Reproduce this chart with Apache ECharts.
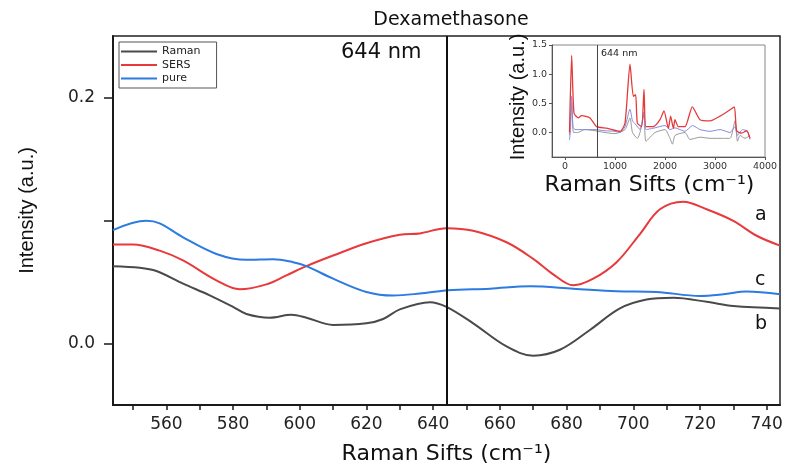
<!DOCTYPE html>
<html>
<head>
<meta charset="utf-8">
<script src="https://cdn.jsdelivr.net/npm/echarts@6/dist/echarts.min.js"></script>
<style>
html,body{margin:0;padding:0;background:#fff;}
#chart{width:787px;height:470px;}
</style>
</head>
<body>
<div id="chart"></div>
<script>
// ---------- data ----------
const titleText = 'Dexamethasone';
const seriesNames = ['Raman', 'SERS', 'pure'];
const markerNm = 644;

// main plot (zoom 544-744 cm-1)
const ramanX = [544,552,557,565,573,580,584,591,597.5,602,610,620,625,630,639,644,652,662,670,678,687,696,704,712,722,730,744];
const ramanY = [0.0629,0.0616,0.0589,0.0487,0.0392,0.0298,0.024,0.021,0.0234,0.021,0.0151,0.0164,0.0199,0.0277,0.0336,0.0298,0.0164,-0.0024,-0.0099,-0.0051,0.011,0.0285,0.0357,0.0371,0.0339,0.0304,0.0285];

const sersX = [544,550,558,565,575,582,590,596,602,610,620,630,636,644,652,662,670,676,682,688,695,702,708,715,722,730,737,744];
const sersY = [0.0804,0.0804,0.0755,0.0675,0.0513,0.0441,0.0481,0.0554,0.0629,0.0715,0.0815,0.0884,0.0895,0.0938,0.0917,0.0823,0.0688,0.0562,0.0473,0.0527,0.0661,0.089,0.1091,0.1153,0.1091,0.0997,0.0876,0.0796];

const pureX = [544,554,558,565,575,584,592,598,602,610,620,628,636,644.5,657,669,682,695,707,720,727,734,744];
const pureY = [0.0922,0.0997,0.0976,0.0863,0.0728,0.068,0.0685,0.0661,0.0629,0.0527,0.0419,0.039,0.0406,0.0433,0.0446,0.0465,0.0446,0.0425,0.0419,0.0387,0.04,0.0422,0.04];

const xTickValues = [550,560,570,580,590,600,610,620,630,640,650,660,670,680,690,700,710,720,730,740];
const xLabelValues = [560,580,600,620,640,660,680,700,720,740];
const yTickValues = [0, 0.1, 0.2];
const yLabelValues = [0, 0.2];

// inset (full spectrum)
const insetSersX = [90,133,180,267,333,500,633,833,1100,1200,1300,1367,1413,1447,1533,1580,1620,1767,1900,1980,2067,2113,2167,2200,2267,2400,2547,2700,2900,3100,3300,3387,3433,3533,3633,3700];
const insetSersY = [0.0,1.32,0.33,0.25,0.29,0.25,0.1,0.075,0.02,0.16,1.17,0.62,0.65,0.16,0.1,0.74,0.1,0.1,0.22,0.37,0.07,0.28,0.07,0.22,0.1,0.1,0.44,0.22,0.2,0.28,0.39,0.44,0.03,-0.01,0.03,-0.1];

const insetPureX = [90,110,133,160,200,400,600,800,1000,1100,1200,1300,1350,1400,1500,1580,1620,1800,2000,2100,2200,2400,2550,2700,2900,3100,3300,3400,3450,3550,3650,3700];
const insetPureY = [-0.13,0.05,0.62,0.1,0.05,0.05,0.05,0.03,0.02,0.0,0.1,0.4,0.2,0.15,0.05,0.35,0.05,0.08,0.12,0.05,0.08,0.02,0.12,0.05,0.02,0.05,0.0,0.1,-0.05,0.05,0.02,-0.12];

const insetRamanX = [90,133,170,250,400,600,800,1000,1200,1300,1350,1450,1500,1580,1620,1800,2000,2100,2150,2200,2400,2500,2700,2900,3100,3300,3400,3450,3500,3600,3700];
const insetRamanY = [-0.05,0.5,0.0,0.0,0.05,0.03,0.0,-0.02,0.05,0.25,0.0,-0.1,0.0,0.3,-0.15,0.0,0.05,-0.1,-0.2,-0.05,0.0,-0.12,-0.08,-0.1,-0.1,-0.1,0.2,-0.15,-0.05,-0.1,-0.05];

const insetXLabels = [0,1000,2000,3000,4000];
const insetYLabels = [0,0.5,1.0,1.5];

const curveLabels = ['a','c','b'];

// ---------- helpers ----------
const zip = (xs, ys) => xs.map((x, i) => [x, ys[i]]);
const FONT = "'DejaVu Sans', 'Liberation Sans', sans-serif";
const ARIAL = "'Liberation Sans', Arial, sans-serif";
const C_RAMAN = '#4a4a4a', C_SERS = '#e8393b', C_PURE = '#2b7be0';

const chart = echarts.init(document.getElementById('chart'), null, {renderer: 'canvas'});

const option = {
  animation: false,
  backgroundColor: '#ffffff',
  title: {
    text: titleText,
    left: 446, top: 6,
    textAlign: 'center',
    textStyle: {fontFamily: FONT, fontSize: 19, fontWeight: 'normal', color: '#111'}
  },
  legend: {
    data: seriesNames,
    orient: 'vertical',
    left: 119, top: 42,
    icon: 'rect',
    itemWidth: 36, itemHeight: 2, itemGap: 0.5,
    padding: [3, 16, 3, 2],
    borderColor: '#555', borderWidth: 1,
    textStyle: {fontFamily: FONT, fontSize: 11, color: '#222', lineHeight: 13}
  },
  grid: [
    {left: 113, top: 36, width: 667, height: 373, show: true, borderColor: '#222', borderWidth: 1.5, containLabel: false},
    {left: 552, top: 45, width: 213, height: 112, show: true, borderColor: '#888', borderWidth: 1, containLabel: false}
  ],
  xAxis: [
    {
      type: 'value', gridIndex: 0, min: 544, max: 744,
      axisLine: {show: true, onZero: false, lineStyle: {color: '#1a1a1a', width: 2}},
      axisTick: {show: true, customValues: xTickValues, length: 5, lineStyle: {color: '#1a1a1a', width: 1.5}},
      axisLabel: {show: true, customValues: xLabelValues, margin: 11, fontFamily: FONT, fontSize: 17, color: '#222'},
      splitLine: {show: false},
      name: 'Raman Sifts (cm⁻¹)', nameLocation: 'middle', nameGap: 38,
      nameTextStyle: {fontFamily: FONT, fontSize: 22, color: '#111'}
    },
    {
      type: 'value', gridIndex: 1, min: -260, max: 4000,
      axisLine: {show: true, onZero: false, lineStyle: {color: '#555', width: 1}},
      axisTick: {show: true, customValues: insetXLabels, length: 3, lineStyle: {color: '#555'}},
      axisLabel: {show: true, customValues: insetXLabels, margin: 5, fontFamily: FONT, fontSize: 9.5, color: '#333',
        formatter: v => String(v)},
      splitLine: {show: false},
      name: 'Raman Sifts (cm⁻¹)', nameLocation: 'middle', nameGap: 17,
      nameTextStyle: {fontFamily: FONT, fontSize: 22, color: '#111', padding: [0, 18, 0, 0]}
    }
  ],
  yAxis: [
    {
      type: 'value', gridIndex: 0, min: -0.05, max: 0.25,
      axisLine: {show: true, onZero: false, lineStyle: {color: '#1a1a1a', width: 2}},
      axisTick: {show: true, customValues: yTickValues, length: 9, lineStyle: {color: '#1a1a1a', width: 1.5}},
      axisLabel: {show: true, customValues: yLabelValues, margin: 18, fontFamily: FONT, fontSize: 17, color: '#222',
        formatter: v => Number(v).toFixed(1)},
      splitLine: {show: false},
      name: 'Intensity (a.u.)', nameLocation: 'middle', nameGap: 76,
      nameTextStyle: {fontFamily: ARIAL, fontSize: 20, color: '#111', padding: [0, 0, 0, 20]}
    },
    {
      type: 'value', gridIndex: 1, min: -0.42, max: 1.5,
      axisLine: {show: true, onZero: false, lineStyle: {color: '#555', width: 1}},
      axisTick: {show: true, customValues: insetYLabels, length: 3, lineStyle: {color: '#555'}},
      axisLabel: {show: true, customValues: insetYLabels, margin: 5, fontFamily: FONT, fontSize: 9.5, color: '#333',
        formatter: v => Number(v).toFixed(1)},
      splitLine: {show: false},
      name: 'Intensity (a.u.)', nameLocation: 'middle', nameGap: 22,
      nameTextStyle: {fontFamily: ARIAL, fontSize: 20, color: '#111', padding: [0, 0, 0, 8]}
    }
  ],
  series: [
    {
      name: 'Raman', type: 'line', xAxisIndex: 0, yAxisIndex: 0,
      data: zip(ramanX, ramanY), smooth: 0.35, symbol: 'none',
      lineStyle: {color: C_RAMAN, width: 2}, itemStyle: {color: C_RAMAN},
      markLine: {
        silent: true, symbol: ['none', 'none'], label: {show: false},
        lineStyle: {color: '#111', width: 2, type: 'solid'},
        data: [{xAxis: markerNm}]
      }
    },
    {
      name: 'SERS', type: 'line', xAxisIndex: 0, yAxisIndex: 0,
      data: zip(sersX, sersY), smooth: 0.35, symbol: 'none',
      lineStyle: {color: C_SERS, width: 2}, itemStyle: {color: C_SERS}
    },
    {
      name: 'pure', type: 'line', xAxisIndex: 0, yAxisIndex: 0,
      data: zip(pureX, pureY), smooth: 0.35, symbol: 'none',
      lineStyle: {color: C_PURE, width: 2}, itemStyle: {color: C_PURE}
    },
    {
      name: 'inset-Raman', type: 'line', xAxisIndex: 1, yAxisIndex: 1,
      data: zip(insetRamanX, insetRamanY), smooth: 0.2, symbol: 'none',
      lineStyle: {color: '#9a9a9a', width: 1}, itemStyle: {color: '#9a9a9a'},
      markLine: {
        silent: true, symbol: ['none', 'none'], label: {show: false},
        lineStyle: {color: '#444', width: 1, type: 'solid'},
        data: [{xAxis: markerNm}]
      }
    },
    {
      name: 'inset-pure', type: 'line', xAxisIndex: 1, yAxisIndex: 1,
      data: zip(insetPureX, insetPureY), smooth: 0.2, symbol: 'none',
      lineStyle: {color: '#8a8ae0', width: 1}, itemStyle: {color: '#8a8ae0'}
    },
    {
      name: 'inset-SERS', type: 'line', xAxisIndex: 1, yAxisIndex: 1,
      data: zip(insetSersX, insetSersY), smooth: 0.2, symbol: 'none',
      lineStyle: {color: '#e53a3a', width: 1.3}, itemStyle: {color: '#e53a3a'}
    }
  ],
  graphic: [
    {type: 'text', left: 341, top: 42, style: {text: markerNm + ' nm', font: "21px 'DejaVu Sans'", fill: '#111'}},
    {type: 'text', left: 601, top: 49, style: {text: markerNm + ' nm', font: "9.5px 'DejaVu Sans'", fill: '#222'}},
    {type: 'text', left: 755, top: 206, style: {text: curveLabels[0], font: "19px 'DejaVu Sans'", fill: '#111'}},
    {type: 'text', left: 755, top: 271, style: {text: curveLabels[1], font: "19px 'DejaVu Sans'", fill: '#111'}},
    {type: 'text', left: 755, top: 315, style: {text: curveLabels[2], font: "19px 'DejaVu Sans'", fill: '#111'}}
  ]
};

chart.setOption(option);
</script>
</body>
</html>
